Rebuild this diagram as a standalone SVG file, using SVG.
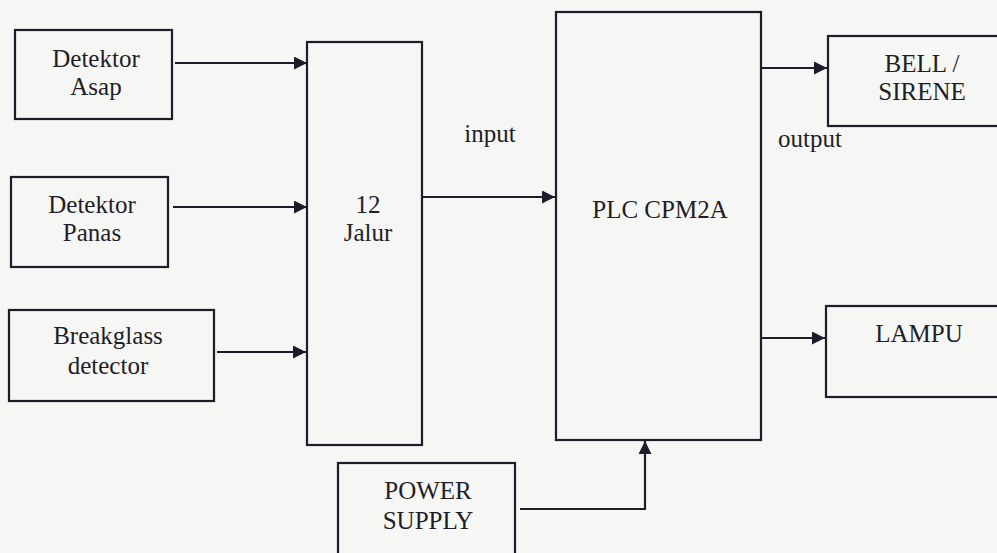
<svg xmlns="http://www.w3.org/2000/svg" width="997" height="553" viewBox="0 0 997 553">
<style>
.box{fill:none;stroke:#1c1c2a;stroke-width:2.2}
.ln{fill:none;stroke:#1c1c2a;stroke-width:2.2}
text{font-family:"Liberation Serif","Times New Roman",serif;font-size:25px;fill:#1e1e28;text-anchor:middle}
.cap{font-size:25px}
</style>
<defs>
<marker id="ah" viewBox="0 0 12 12" refX="12" refY="6" markerWidth="13" markerHeight="13" markerUnits="userSpaceOnUse" orient="auto">
<path d="M0,0 L12,6 L0,12 Z" fill="#1c1c2a"/>
</marker>
</defs>
<rect width="997" height="553" fill="#f6f6f4"/>
<g id="asap"><rect class="box" x="15" y="30" width="157" height="89"/><text x="96" y="67">Detektor</text><text x="96" y="95">Asap</text></g>
<g id="panas"><rect class="box" x="11" y="177" width="157" height="90"/><text x="92" y="213">Detektor</text><text x="92" y="241">Panas</text></g>
<g id="breakglass"><rect class="box" x="9" y="310" width="205" height="91"/><text x="108" y="344">Breakglass</text><text x="108" y="374">detector</text></g>
<g id="jalur"><rect class="box" x="307" y="42" width="115" height="403"/><text x="368" y="213">12</text><text x="368" y="241">Jalur</text></g>
<g id="plc"><rect class="box" x="556" y="12" width="205" height="428"/><text class="cap" x="660" y="218">PLC CPM2A</text></g>
<g id="bell"><rect class="box" x="828" y="36" width="180" height="90"/><text class="cap" x="922" y="72">BELL /</text><text class="cap" x="922" y="100">SIRENE</text></g>
<g id="lampu"><rect class="box" x="826" y="306" width="180" height="91"/><text class="cap" x="919" y="342">LAMPU</text></g>
<g id="power"><rect class="box" x="338" y="463" width="177" height="100"/><text class="cap" x="428" y="499">POWER</text><text class="cap" x="428" y="529">SUPPLY</text></g>
<g id="connectors">
<line class="ln" x1="175" y1="63" x2="307" y2="63" marker-end="url(#ah)"/>
<line class="ln" x1="173" y1="207" x2="307" y2="207" marker-end="url(#ah)"/>
<line class="ln" x1="217" y1="352" x2="306" y2="352" marker-end="url(#ah)"/>
<line class="ln" x1="422" y1="197" x2="555" y2="197" marker-end="url(#ah)"/>
<line class="ln" x1="762" y1="68" x2="827" y2="68" marker-end="url(#ah)"/>
<line class="ln" x1="761" y1="338" x2="825" y2="338" marker-end="url(#ah)"/>
<polyline class="ln" points="520,509 645,509 645,441" marker-end="url(#ah)"/>
<text x="490" y="142">input</text>
<text x="810" y="147">output</text>
</g>
</svg>
